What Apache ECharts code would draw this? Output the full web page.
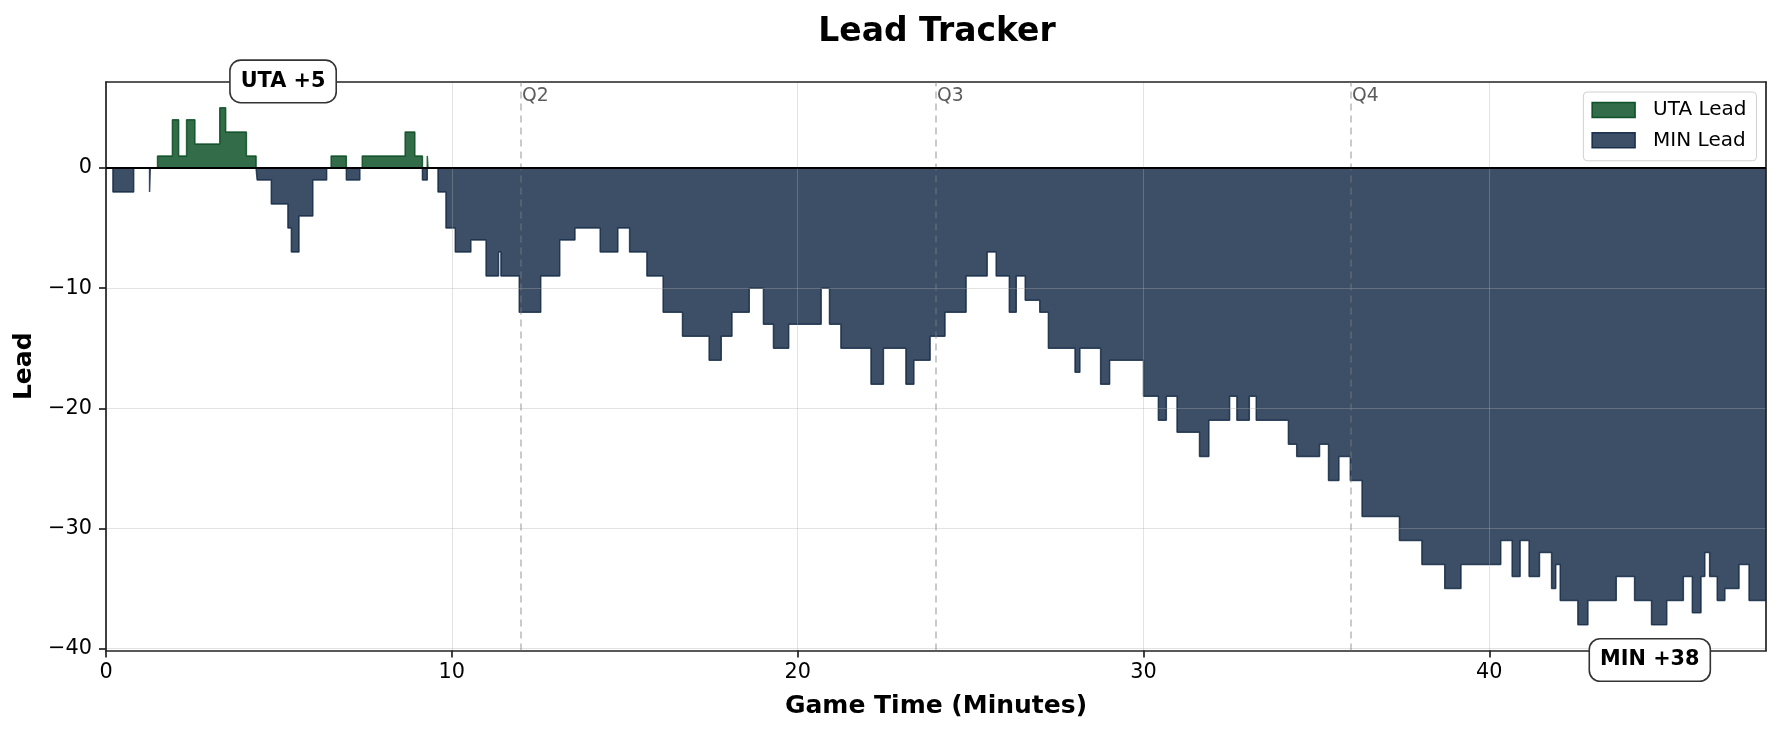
<!DOCTYPE html>
<html><head><meta charset="utf-8">
<script src="https://cdn.jsdelivr.net/npm/echarts@6/dist/echarts.min.js"></script>
<style>html,body{margin:0;padding:0;background:#fff}#c{width:1782px;height:733px}</style>
</head><body><div id="c"></div>
<script>
// ---- data (minutes, lead: + = UTA, - = MIN), value held until next time ----
const times = [0,0.2,0.8,1.26,1.28,1.49,1.92,2.10,2.33,2.57,3.29,3.46,4.06,4.34,4.37,4.78,5.26,5.36,5.58,5.98,
  6.38,6.51,6.95,7.34,7.41,8.65,8.93,9.15,9.29,9.31,9.60,9.83,10.10,10.55,10.99,11.35,11.42,11.95,12.57,13.12,
  13.56,14.29,14.80,15.14,15.64,16.11,16.67,17.44,17.79,18.10,18.60,19.01,19.30,19.74,20.68,20.92,21.25,22.12,22.48,23.13,
  23.36,23.83,24.26,24.87,25.48,25.74,26.12,26.32,26.58,27.00,27.25,28.02,28.16,28.76,29.02,30.00,30.43,30.66,30.97,31.62,
  31.89,32.49,32.70,33.06,33.26,34.19,34.43,35.09,35.35,35.65,35.98,36.32,37.40,38.05,38.71,39.18,40.33,40.66,40.89,41.15,
  41.45,41.80,41.92,42.05,42.56,42.85,43.67,44.20,44.69,45.13,45.61,45.87,46.12,46.23,46.37,46.59,46.81,47.22,47.51,48.00];
const leads = [0,-2,0,-2,0,1,4,1,4,2,5,3,1,0,-1,-3,-5,-7,-4,-1,
  0,1,-1,0,1,3,1,-1,1,0,-2,-5,-7,-6,-9,-7,-9,-12,-9,-6,
  -5,-7,-5,-7,-9,-12,-14,-16,-14,-12,-10,-13,-15,-13,-10,-13,-15,-18,-15,-18,
  -16,-14,-12,-9,-7,-9,-12,-9,-11,-12,-15,-17,-15,-18,-16,-19,-21,-19,-22,-24,
  -21,-19,-21,-19,-21,-23,-24,-23,-26,-24,-26,-29,-31,-33,-35,-33,-31,-34,-31,-34,
  -32,-35,-33,-36,-38,-36,-34,-36,-38,-36,-34,-37,-34,-32,-34,-36,-35,-33,-36,-36];
const quarterTimes = [12, 24, 36];
const quarterLabels = ['Q2', 'Q3', 'Q4'];
const xTicks = [0, 10, 20, 30, 40];
const yTicks = [-40, -30, -20, -10, 0];
const seriesNames = ['UTA Lead', 'MIN Lead'];
const annotationTexts = ['UTA +5', 'MIN +38'];
const annotationAnchors = [[5.12, 7.2], [44.64, -40.94]];

const FONT = 'DejaVu Sans';
const UTA = '#00471B', MIN = '#0C2340';
const xMin = 0, xMax = 48, yMin = -40.15, yMax = 7.15;
const fmt = v => String(v).replace('-', '\u2212');

const utaData = times.map((t, i) => [t, Math.max(leads[i], 0)]);
const minData = times.map((t, i) => [t, Math.min(leads[i], 0)]);

const chart = echarts.init(document.getElementById('c'), null, {renderer: 'canvas'});
const axisLineStyle = {color: '#222', width: 1.7};
const gridLine = {show: true, lineStyle: {color: 'rgba(176,176,176,0.35)', width: 1}};

chart.setOption({
  animation: false,
  backgroundColor: '#fff',
  textStyle: {fontFamily: FONT},
  title: {text: 'Lead Tracker', left: 932, top: 11, textAlign: 'center',
    textStyle: {fontFamily: FONT, fontSize: 33, fontWeight: 'bold', color: '#000'}},
  grid: {left: 106, right: 16, top: 82, bottom: 82.5, containLabel: false},
  legend: {
    orient: 'vertical', right: 25.5, top: 92, icon: 'rect', itemWidth: 43, itemHeight: 15, itemGap: 9.3,
    padding: [7.5, 10, 10, 8], backgroundColor: 'rgba(255,255,255,0.8)', borderColor: '#d0d0d0', borderWidth: 1, borderRadius: 4,
    textStyle: {fontFamily: FONT, fontSize: 20, color: '#000', lineHeight: 21, padding: [0, 0, 0, 13]},
    data: [
      {name: seriesNames[0], itemStyle: {color: 'rgba(0,71,27,0.8)', borderColor: 'rgba(0,71,27,0.9)', borderWidth: 1.5}},
      {name: seriesNames[1], itemStyle: {color: 'rgba(12,35,64,0.8)', borderColor: 'rgba(12,35,64,0.9)', borderWidth: 1.5}}
    ]
  },
  xAxis: [{
    type: 'value', min: xMin, max: xMax, position: 'bottom', z: 3,
    name: 'Game Time (Minutes)', nameLocation: 'middle', nameGap: 43,
    nameTextStyle: {fontFamily: FONT, fontSize: 25, fontWeight: 'bold', color: '#000'},
    axisLine: {show: true, onZero: false, lineStyle: axisLineStyle},
    axisTick: {show: true, inside: false, length: 7, lineStyle: axisLineStyle, customValues: xTicks},
    axisLabel: {show: true, margin: 12, fontSize: 20.8, color: '#000', fontFamily: FONT, formatter: fmt, customValues: xTicks},
    splitLine: gridLine
  }, {
    type: 'value', min: xMin, max: xMax, position: 'top', z: 3,
    axisLine: {show: true, onZero: false, lineStyle: axisLineStyle},
    axisTick: {show: false}, axisLabel: {show: false}, splitLine: {show: false}
  }],
  yAxis: [{
    type: 'value', min: yMin, max: yMax, position: 'left', z: 3,
    name: 'Lead', nameLocation: 'middle', nameGap: 57,
    nameTextStyle: {fontFamily: FONT, fontSize: 25, fontWeight: 'bold', color: '#000'},
    axisLine: {show: true, onZero: false, lineStyle: axisLineStyle},
    axisTick: {show: true, inside: false, length: 7, lineStyle: axisLineStyle, customValues: yTicks},
    axisLabel: {show: true, margin: 14, fontSize: 20.8, color: '#000', fontFamily: FONT, formatter: fmt, customValues: yTicks},
    splitLine: gridLine
  }, {
    type: 'value', min: yMin, max: yMax, position: 'right', z: 3,
    axisLine: {show: true, onZero: false, lineStyle: axisLineStyle},
    axisTick: {show: false}, axisLabel: {show: false}, splitLine: {show: false}
  }],
  series: [{
    name: seriesNames[0], type: 'line', step: 'end', data: utaData, showSymbol: false, symbol: 'none',
    itemStyle: {color: UTA},
    lineStyle: {color: UTA, width: 1.5, opacity: 0.8},
    areaStyle: {color: UTA, opacity: 0.8, origin: 0},
    z: 2
  }, {
    name: seriesNames[1], type: 'line', step: 'end', data: minData, showSymbol: false, symbol: 'none',
    itemStyle: {color: MIN},
    lineStyle: {color: MIN, width: 1.5, opacity: 0.8},
    areaStyle: {color: MIN, opacity: 0.8, origin: 0},
    z: 2,
    markLine: {
      silent: true, symbol: ['none', 'none'], animation: false, z: 5,
      label: {show: false},
      data: quarterTimes.map(q => ({xAxis: q, lineStyle: {color: 'rgba(128,128,128,0.55)', width: 1.5, type: [7, 5]}}))
        .concat([{yAxis: 0, lineStyle: {color: '#000', width: 2, type: 'solid'}}])
    }
  }]
});

// text annotations positioned through the chart's own scales
const graphics = [];
quarterTimes.forEach((q, i) => {
  const p = chart.convertToPixel({gridIndex: 0}, [q, yMax]);
  graphics.push({type: 'text', x: p[0] + 1, y: p[1] + 5, z: 20, silent: true,
    style: {text: quarterLabels[i], font: '18.75px "DejaVu Sans"', fill: 'rgba(64,64,64,0.85)', align: 'left', verticalAlign: 'top'}});
});
annotationTexts.forEach((t, i) => {
  const p = chart.convertToPixel({gridIndex: 0}, annotationAnchors[i]);
  graphics.push({type: 'text', x: p[0], y: p[1], z: 30, silent: true,
    style: {text: t, font: 'bold 20.8px "DejaVu Sans"', fill: '#000', align: 'center', verticalAlign: 'middle',
      lineHeight: 21, backgroundColor: '#fff', borderColor: '#333', borderWidth: 1.6, borderRadius: 10, padding: [10, 10]}});
});
chart.setOption({graphic: graphics});
</script>
</body></html>
